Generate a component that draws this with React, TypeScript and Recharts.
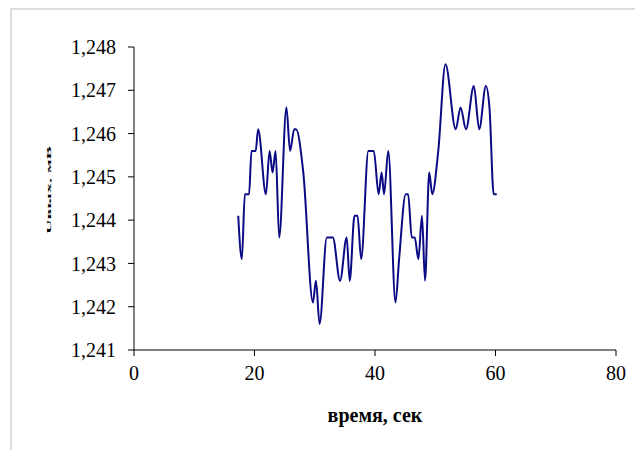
import { LineChart, Line, XAxis, YAxis, Label } from 'recharts'

// время, сек
const timeSec = [
  17.3, 17.9, 18.4, 19.1, 19.5, 20.2, 20.6, 21.9, 22.5, 23.0,
  23.5, 24.1, 25.3, 25.9, 26.6, 26.9, 28.1, 29.7, 30.2, 30.8,
  32.0, 33.0, 34.2, 35.3, 35.8, 36.6, 37.1, 37.7, 38.9, 39.8,
  40.6, 41.1, 41.5, 42.2, 43.4, 44.0, 45.1, 45.5, 46.1, 46.6,
  47.2, 47.8, 48.3, 49.0, 49.5, 50.5, 51.7, 53.4, 54.2, 55.1,
  56.4, 57.3, 58.4, 59.0, 59.7, 60.2,
]

const values = [
  1.2441, 1.2431, 1.2446, 1.2446, 1.2456, 1.2456, 1.2461, 1.2446, 1.2456, 1.2451,
  1.2456, 1.2436, 1.2466, 1.2456, 1.2461, 1.2461, 1.2451, 1.2421, 1.2426, 1.2416,
  1.2436, 1.2436, 1.2426, 1.2436, 1.2426, 1.2441, 1.2441, 1.2431, 1.2456, 1.2456,
  1.2446, 1.2451, 1.2446, 1.2456, 1.2421, 1.2431, 1.2446, 1.2446, 1.2436, 1.2436,
  1.2431, 1.2441, 1.2426, 1.2451, 1.2446, 1.2456, 1.2476, 1.2461, 1.2466, 1.2461,
  1.2471, 1.2461, 1.2471, 1.2466, 1.2446, 1.2446,
]

const xTicks = [0, 20, 40, 60, 80]
const yTicks = [1.241, 1.242, 1.243, 1.244, 1.245, 1.246, 1.247, 1.248]

const data = timeSec.map((t, i) => ({ t, v: values[i] }))

const font = '"Liberation Serif", "Times New Roman", serif'

export default function App() {
  return (
    <div style={{ position: 'absolute', left: 0, top: 0, width: 635, height: 450, background: '#fff', fontFamily: font }}>
      {/* frame */}
      <div style={{ position: 'absolute', left: 10, top: 8, right: 0, bottom: 0, borderTop: '2px solid #dcdcdc', borderLeft: '2px solid #dcdcdc' }} />
      {/* squeezed vertical axis title */}
      <div
        style={{
          position: 'absolute', left: 4, top: 178, width: 90, height: 24, lineHeight: '24px',
          transform: 'rotate(-90deg) scaleY(0.28)', fontWeight: 'bold', fontSize: 20,
          whiteSpace: 'nowrap', textAlign: 'center', color: '#000',
        }}
      >
        Uвых, мВ
      </div>
      <LineChart width={635} height={450} data={data} margin={{ top: 47, right: 19, bottom: 0, left: 0 }}>
        <XAxis
          dataKey="t"
          type="number"
          domain={[0, 80]}
          ticks={xTicks}
          height={100}
          stroke="#000"
          tickSize={6}
          tickMargin={10}
          tick={{ fontSize: 20, fill: '#000', fontFamily: font }}
        >
          <Label value="время, сек" position="insideBottom" offset={28} style={{ fontSize: 20, fontWeight: 'bold', fill: '#000', fontFamily: font }} />
        </XAxis>
        <YAxis
          dataKey="v"
          type="number"
          domain={[1.241, 1.248]}
          ticks={yTicks}
          width={134}
          stroke="#000"
          tickSize={6}
          tickMargin={12}
          tickFormatter={(v: number) => v.toFixed(3).replace('.', ',')}
          tick={{ fontSize: 20, fill: '#000', fontFamily: font }}
          allowDataOverflow
        />
        <Line type="monotone" dataKey="v" stroke="#0a0a85" strokeWidth={2} dot={false} isAnimationActive={false} />
      </LineChart>
    </div>
  )
}
